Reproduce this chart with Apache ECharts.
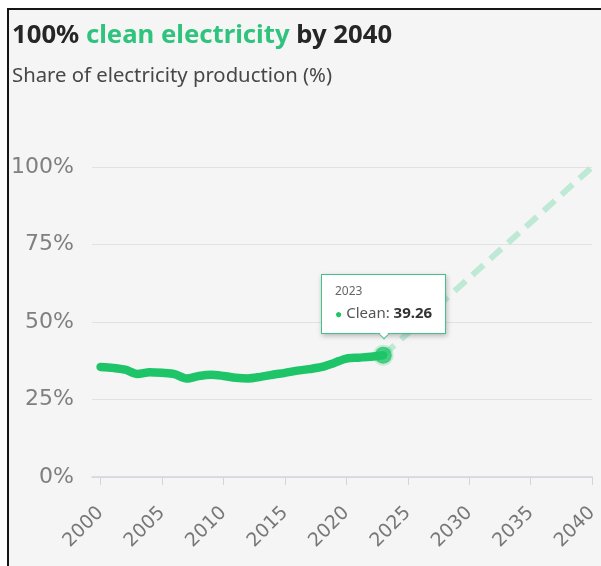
<!DOCTYPE html>
<html>
<head>
<meta charset="utf-8">
<script src="https://cdn.jsdelivr.net/npm/echarts@6/dist/echarts.min.js"></script>
<style>
  html, body { margin: 0; padding: 0; background: #ffffff; }
  #frame {
    position: absolute; left: 7px; top: 8px; width: 600px; height: 566px;
    background: #f5f5f5; border-top: 2px solid #151515; border-left: 2px solid #151515;
  }
  #chart { position: absolute; left: 0; top: 0; width: 601px; height: 566px; }
</style>
</head>
<body>
<div id="frame"></div>
<div id="chart"></div>
<script>
// Share of electricity from clean sources, by year (%)
const years = [2000, 2001, 2002, 2003, 2004, 2005, 2006, 2007, 2008, 2009, 2010, 2011,
               2012, 2013, 2014, 2015, 2016, 2017, 2018, 2019, 2020, 2021, 2022, 2023];
const cleanShare = [35.5, 35.2, 34.6, 33.2, 33.8, 33.6, 33.2, 31.8, 32.6, 33.0, 32.6, 32.0,
                    31.8, 32.3, 33.0, 33.6, 34.3, 34.8, 35.5, 36.8, 38.2, 38.5, 38.8, 39.26];
// Path to the 2040 goal
const targetYears = [2023, 2040];
const targetShare = [39.26, 100];
// Axis ticks
const xTicks = [2000, 2005, 2010, 2015, 2020, 2025, 2030, 2035, 2040];

const GREEN = '#1ec468';
const lastIdx = years.length - 1;

const chart = echarts.init(document.getElementById('chart'), null, { renderer: 'canvas' });

chart.setOption({
  backgroundColor: 'transparent',
  animation: false,
  title: {
    left: 7, top: 18,
    text: '{d|100% }{g|clean electricity}{d| by 2040}',
    textStyle: {
      rich: {
        d: { fontFamily: 'Noto Sans', fontWeight: 'bold', fontSize: 25.7, color: '#262626' },
        g: { fontFamily: 'Noto Sans', fontWeight: 'bold', fontSize: 25.7, color: '#2fc37d' }
      }
    },
    subtext: 'Share of electricity production (%)',
    itemGap: 17,
    subtextStyle: { fontFamily: 'Noto Sans', fontSize: 20.3, color: '#474747' }
  },
  grid: { left: 92, right: 6, top: 167, bottom: 89, containLabel: false },
  tooltip: {
    trigger: 'item',
    triggerOn: 'none',
    alwaysShowContent: true,
    position: 'top',
    backgroundColor: '#ffffff',
    borderColor: '#45bf8c',
    borderWidth: 1.5,
    padding: [8, 13, 9, 13],
    extraCssText: 'box-shadow: 1px 2px 5px rgba(0,0,0,0.25); border-radius: 0;',
    formatter: function (p) {
      return '<div style="font-family:Noto Sans;font-size:12px;color:#666;line-height:16px">' + p.value[0] + '</div>' +
             '<div style="font-family:Noto Sans;font-size:15px;color:#555;line-height:20px;margin-top:3px">' +
             '<span style="color:' + GREEN + ';font-size:12px">&#9679;</span> Clean: ' +
             '<b style="color:#333">' + p.value[1].toFixed(2) + '</b></div>';
    }
  },
  xAxis: {
    type: 'value',
    min: 1999.3,
    max: 2040,
    axisLine: { show: true, lineStyle: { color: '#d4d4dc', width: 1.5 } },
    axisTick: { show: true, length: 8, customValues: xTicks, lineStyle: { color: '#d4d4dc' } },
    splitLine: { show: false },
    axisLabel: {
      customValues: xTicks,
      rotate: 45,
      margin: 33,
      fontFamily: 'DejaVu Sans',
      fontSize: 19,
      color: '#777777',
      formatter: v => String(v)
    }
  },
  yAxis: {
    type: 'value',
    min: 0, max: 100, interval: 25,
    axisLine: { show: false },
    axisTick: { show: false },
    splitLine: { lineStyle: { color: '#e2e2e2', width: 1 } },
    axisLabel: {
      margin: 18,
      fontFamily: 'DejaVu Sans',
      fontSize: 22,
      color: '#7f7f7f',
      formatter: v => v + '%'
    }
  },
  series: [
    {
      name: 'Target',
      type: 'line',
      data: targetYears.map((y, i) => [y, targetShare[i]]),
      showSymbol: false,
      lineStyle: { color: '#bde9d5', width: 6, type: [15, 9] },
      silent: true,
      z: 1
    },
    {
      name: 'Clean',
      type: 'line',
      data: years.map((y, i) => [y, cleanShare[i]]),
      showSymbol: false,
      smooth: 0.3,
      lineStyle: { color: GREEN, width: 8.5, cap: 'round', join: 'round' },
      silent: true,
      z: 2
    },
    {
      name: 'Clean',
      type: 'scatter',
      data: [[years[lastIdx], cleanShare[lastIdx]]],
      symbolSize: 17,
      itemStyle: { color: GREEN, borderColor: 'rgba(30,196,104,0.28)', borderWidth: 4 },
      z: 3
    }
  ]
});

chart.dispatchAction({ type: 'showTip', seriesIndex: 2, dataIndex: 0 });
</script>
</body>
</html>
